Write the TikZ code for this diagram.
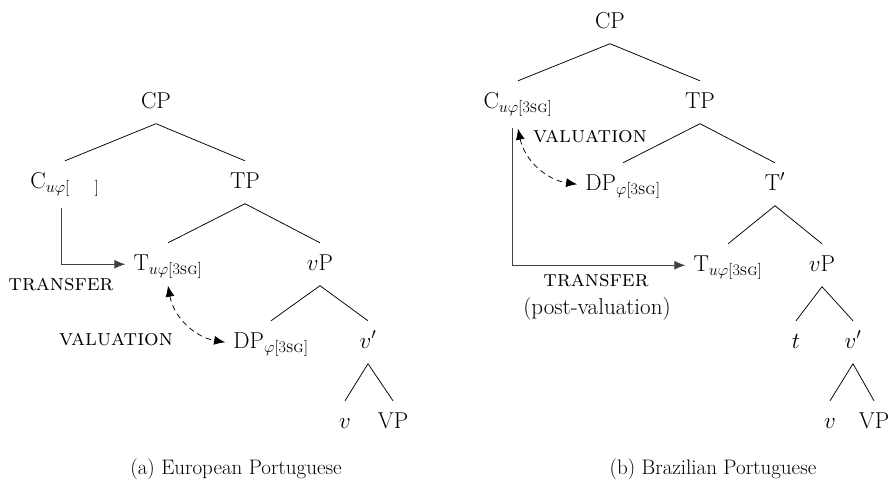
\RequirePackage{fix-cm}
\documentclass[tikz,border=0pt]{standalone}
\usepackage{amsmath}
\usetikzlibrary{arrows.meta}
\newcommand\myfeat[1]{$_{u\varphi[\text{#1}]}$}
\newcommand\mydpfeat{$_{\varphi[\text{3\textsc{sg}}]}$}
\begin{document}
\begin{tikzpicture}[x=1pt,y=-1pt,
  cat/.style={font=\fontsize{23}{27}\selectfont, anchor=base, text height=16.5pt, text depth=5pt, inner ysep=10.5pt, inner xsep=8pt},
  edge/.style={line width=0.75pt},
  lbl/.style={font=\fontsize{23}{27}\selectfont\scshape, anchor=base, inner sep=0pt},
  xfer/.style={line width=1pt, draw=black!75, -{Latex[length=11pt,width=9pt]}},
  val/.style={line width=0.75pt, dash pattern=on 5.5pt off 4pt, {Latex[length=11pt,width=9pt]}-{Latex[length=11pt,width=9pt]}},
  plain/.style={font=\fontsize{23}{27}\selectfont, anchor=base, inner sep=0pt},
  captext/.style={font=\fontsize{21}{25}\selectfont, anchor=base, inner sep=0pt}]
\useasboundingbox (0,0) rectangle (890,479);
% ---------- (a) European Portuguese ----------
\node[cat] (CP1) at (156,108) {CP};
\node[cat] (C1) at (65,188) {C\myfeat{\phantom{3\textsc{sg}}}};
\node[cat] (TP1) at (245,188) {TP};
\node[cat] (T1) at (168,270) {T\myfeat{3\textsc{sg}}};
\node[cat] (vP1) at (320,270) {$v$P};
\node[cat] (DP1) at (271,348) {DP\mydpfeat};
\node[cat] (vb1) at (368,348) {$v'$};
\node[cat] (v1) at (345,428) {$v$};
\node[cat] (VP1) at (393,428) {VP};
\draw[edge] (CP1.south) -- (C1.north);
\draw[edge] (CP1.south) -- (TP1.north);
\draw[edge] (TP1.south) -- (T1.north);
\draw[edge] (TP1.south) -- (vP1.north);
\draw[edge] (vP1.south) -- (DP1.north);
\draw[edge] (vP1.south) -- (vb1.north);
\draw[edge] (vb1.south) -- (v1.north);
\draw[edge] (vb1.south) -- (VP1.north);
\draw[xfer] ([xshift=-4pt,yshift=-4pt]C1.south) |- (T1.west);
\draw[val] (T1.south) to[bend right=35] (DP1.west);
\node[lbl] (tr1) at (61,290) {transfer};
\node[lbl] (va1) at (116,345) {valuation};
\node[captext] (capa) at (236,474) {(a) European Portuguese};
% ---------- (b) Brazilian Portuguese ----------
\node[cat] (CP2) at (610,28) {CP};
\node[cat] (C2) at (518,108) {C\myfeat{3\textsc{sg}}};
\node[cat] (TP2) at (700,108) {TP};
\node[cat] (DP2) at (623,190) {DP\mydpfeat};
\node[cat] (Tb2) at (775,190) {T$'$};
\node[cat] (T2) at (728,271) {T\myfeat{3\textsc{sg}}};
\node[cat] (vP2) at (822,271) {$v$P};
\node[cat] (t2) at (796,348) {$t$};
\node[cat] (vb2) at (853,348) {$v'$};
\node[cat] (v2) at (830,428) {$v$};
\node[cat] (VP2) at (874,428) {VP};
\draw[edge] (CP2.south) -- (C2.north);
\draw[edge] (CP2.south) -- (TP2.north);
\draw[edge] (TP2.south) -- (DP2.north);
\draw[edge] (TP2.south) -- (Tb2.north);
\draw[edge] (Tb2.south) -- (T2.north);
\draw[edge] (Tb2.south) -- (vP2.north);
\draw[edge] (vP2.south) -- (t2.north);
\draw[edge] (vP2.south) -- (vb2.north);
\draw[edge] (vb2.south) -- (v2.north);
\draw[edge] (vb2.south) -- (VP2.north);
\draw[xfer] ([xshift=-6pt,yshift=-4pt]C2.south) |- (T2.west);
\draw[val] ([yshift=-5pt]C2.south) to[bend right=35] (DP2.west);
\node[lbl] (va2) at (590,142) {valuation};
\node[lbl] (tr2) at (596,286) {transfer};
\node[plain] (pv) at (597,314) {(post-valuation)};
\node[captext] (capb) at (713,474) {(b) Brazilian Portuguese};
\end{tikzpicture}
\end{document}
